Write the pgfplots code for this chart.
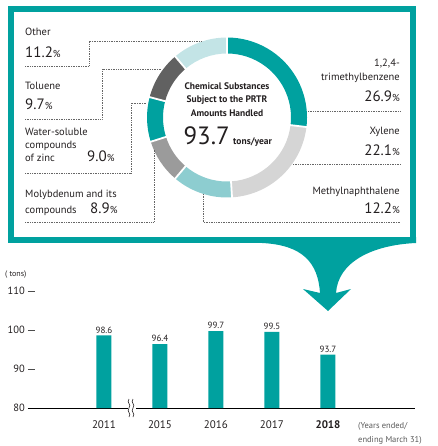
\documentclass[border=0pt]{standalone}
\usepackage{fontspec}
\setmainfont{PT Sans}
\usepackage{pgfplots}
\pgfplotsset{compat=1.18}
\usepackage{pgfplotstable}

\definecolor{cTeal}{HTML}{00A19F}
\definecolor{cLGray}{HTML}{D5D5D5}
\definecolor{cLTeal}{HTML}{8DCDD0}
\definecolor{cMGray}{HTML}{9B9B9B}
\definecolor{cDGray}{HTML}{616161}
\definecolor{cVLTeal}{HTML}{C3E4E6}
\definecolor{txt}{HTML}{231F20}

% shares of the donut, clockwise from the top
\pgfplotstableread{
share col
26.9 cTeal
22.1 cLGray
12.2 cLTeal
8.9 cMGray
9.0 cTeal
9.7 cDGray
11.2 cVLTeal
}\donutdata

\newcommand{\pct}{{\fontsize{10}{10}\selectfont\%}}

\begin{document}
\begin{tikzpicture}[x=1pt,y=1pt,
  lbl/.style={anchor=base west,inner sep=0pt,text=txt,font=\fontsize{10.5}{12}\selectfont},
  lblr/.style={lbl,anchor=base east},
  num/.style={anchor=base west,inner sep=0pt,text=txt,font=\fontsize{15}{15}\selectfont},
  numr/.style={num,anchor=base east},
  ctr/.style={anchor=base,inner sep=0pt,text=txt,font=\fontsize{9.5}{10}\selectfont\bfseries},
  dots/.style={draw=black!60,line width=0.6pt,dash pattern=on 0.8pt off 0.9pt}]
\path[use as bounding box] (0pt,0pt) rectangle (437pt,-446pt);

% frame and arrow
\fill[cTeal] (262,-237) -- (416,-237) -- (416,-243)
  .. controls (372,-245) and (338,-262) .. (336,-293) -- (351,-289) -- (328,-311)
  -- (303,-289) -- (320,-293) .. controls (318,-262) and (302,-245) .. (262,-243) -- cycle;
\draw[cTeal,line width=5.5pt] (11,-9) rectangle (413,-240);

% donut
\def\acc{90}
\pgfplotsforeachungrouped \i in {0,...,6}{%
  \pgfplotstablegetelem{\i}{share}\of\donutdata
  \pgfmathsetmacro\endang{\acc-3.6*\pgfplotsretval}%
  \pgfplotstablegetelem{\i}{col}\of\donutdata
  \edef\segcol{\pgfplotsretval}%
  \fill[\segcol] ([shift={(\acc:80)}]227,-117.5) arc[start angle=\acc,end angle=\endang,radius=80]
    -- ([shift={(\endang:64)}]227,-117.5) arc[start angle=\endang,end angle=\acc,radius=64] -- cycle;
  \global\let\acc\endang
}
\def\acc{90}
\pgfplotsforeachungrouped \i in {0,...,6}{%
  \pgfplotstablegetelem{\i}{share}\of\donutdata
  \pgfmathsetmacro\endang{\acc-3.6*\pgfplotsretval}%
  \draw[white,line width=1.8pt] ([shift={(\acc:62)}]227,-117.5) -- ([shift={(\acc:82)}]227,-117.5);
  \global\let\acc\endang
}

% centre text
\node[ctr] at (227,-90) {Chemical Substances};
\node[ctr] at (227,-103) {Subject to the PRTR};
\node[ctr] at (227,-117) {Amounts Handled};
\node[anchor=base east,inner sep=0pt,text=txt,font=\fontsize{25}{25}\selectfont] at (230,-145) {93.7};
\node[anchor=base west,inner sep=0pt,text=txt,font=\fontsize{9.5}{10}\selectfont\bfseries] at (233,-145) {tons/year};

% leader lines
\draw[dots] (25,-66) -- (89,-66) -- (89,-41) -- (201,-41);
\draw[dots] (25,-119) -- (102,-119) -- (102,-69) -- (161,-69);
\draw[dots] (25,-173) -- (131,-173) -- (131,-103) -- (147,-103);
\draw[dots] (25,-222) -- (154,-222) -- (154,-150);
\draw[dots] (203,-194) -- (203,-222) -- (401,-222);
\draw[dots] (293,-164) -- (401,-164);
\draw[dots] (308,-111) -- (401,-111);

% left labels
\node[lbl] at (25,-36) {Other};
\node[num] at (25,-58) {11.2\pct};
\node[lbl] at (25,-90) {Toluene};
\node[num] at (25,-110) {9.7\pct};
\node[lbl] at (25,-136) {Water-soluble};
\node[lbl] at (25,-149) {compounds};
\node[lbl] at (25,-162) {of zinc};
\node[num] at (87,-162) {9.0\pct};
\node[lbl] at (25,-197) {Molybdenum and its};
\node[lbl] at (25,-213) {compounds};
\node[num] at (90,-213) {8.9\pct};

% right labels
\node[lblr] at (400,-67) {1,2,4-};
\node[lblr] at (400,-81) {trimethylbenzene};
\node[numr] at (400,-102) {26.9\pct};
\node[lblr] at (400,-135) {Xylene};
\node[numr] at (400,-156) {22.1\pct};
\node[lblr] at (400,-194) {Methylnaphthalene};
\node[numr] at (400,-213) {12.2\pct};

% bar chart
\node[anchor=base west,inner sep=0pt,text=txt,font=\fontsize{8}{9}\selectfont] at (5,-276) {( tons)};
\begin{axis}[
  at={(28pt,-408pt)}, anchor=south west,
  scale only axis, width=387pt, height=117pt,
  xmin=-1.357, xmax=5.554, ymin=80, ymax=110,
  axis lines=left, axis line style={-},
  y axis line style={draw=none},
  x axis line style={line width=0.9pt,black},
  clip=false,
  /pgf/number format/assume math mode=true,
  ytick={80,90,100,110},
  ytick style={draw=black!70,line width=0.5pt},
  major tick length=7pt, tick align=inside,
  yticklabel style={inner sep=0pt,xshift=-3pt,text=txt,font=\fontsize{10.5}{12}\selectfont},
  xtick={0,...,4},
  xticklabels={2011,2015,2016,2017,\textbf{2018}},
  xtick style={draw=none},
  xticklabel style={anchor=base,inner sep=0pt,yshift=-20pt,text=txt,font=\fontsize{11}{12}\selectfont},
]
\addplot[ybar,bar width=15pt,fill=cTeal,draw=none,
  nodes near coords,
  every node near coord/.append style={text=txt,font=\fontsize{9}{10}\selectfont,inner sep=2pt}]
  coordinates {(0,98.6) (1,96.4) (2,99.7) (3,99.5) (4,93.7)};
% axis break mark
\fill[white] ([xshift=-4pt,yshift=-1pt]axis cs:0.5,80) rectangle ([xshift=4pt,yshift=1pt]axis cs:0.5,80);
\draw[line width=0.6pt,txt] ([xshift=-3pt,yshift=-9pt]axis cs:0.5,80)
  .. controls +(3pt,4pt) and +(-3pt,-4pt) .. ([xshift=-3pt,yshift=0pt]axis cs:0.5,80)
  .. controls +(3pt,4pt) and +(-3pt,-4pt) .. ([xshift=-3pt,yshift=9pt]axis cs:0.5,80);
\draw[line width=0.6pt,txt] ([xshift=1pt,yshift=-9pt]axis cs:0.5,80)
  .. controls +(3pt,4pt) and +(-3pt,-4pt) .. ([xshift=1pt,yshift=0pt]axis cs:0.5,80)
  .. controls +(3pt,4pt) and +(-3pt,-4pt) .. ([xshift=1pt,yshift=9pt]axis cs:0.5,80);
\end{axis}
\node[anchor=base west,inner sep=0pt,text=black!65,font=\fontsize{8.5}{9}\selectfont] at (358,-428) {(Years ended/};
\node[anchor=base west,inner sep=0pt,text=black!65,font=\fontsize{8.5}{9}\selectfont] at (358,-442) {ending March 31)};
\end{tikzpicture}
\end{document}
